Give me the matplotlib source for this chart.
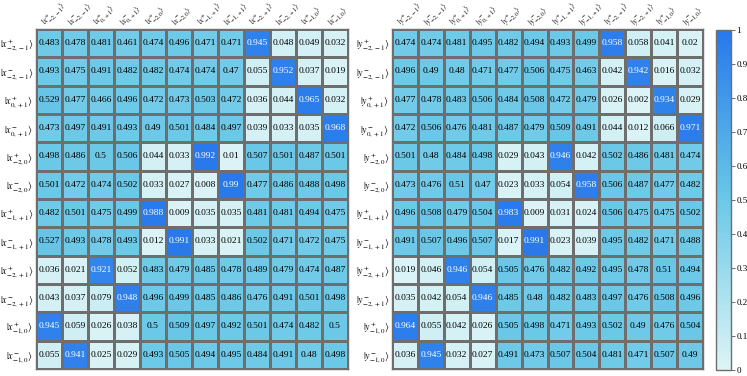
import matplotlib
matplotlib.use("Agg")
import matplotlib.pyplot as plt
import matplotlib.transforms as mtransforms
import numpy as np
from matplotlib.colors import LinearSegmentedColormap

plt.rcParams['font.family'] = ['Liberation Serif', 'DejaVu Serif']
plt.rcParams['mathtext.fontset'] = 'stix'

# index labels (row order == column order)
idx = ['-2,-1', '-2,-1', '0,+1', '0,+1', '-2,0', '-2,0',
       '-1,+1', '-1,+1', '-2,+1', '-2,+1', '-1,0', '-1,0']
signs = ['+', '-'] * 6

x_vals = [
    [0.483, 0.478, 0.481, 0.461, 0.474, 0.496, 0.471, 0.471, 0.945, 0.048, 0.049, 0.032],
    [0.493, 0.475, 0.491, 0.482, 0.482, 0.474, 0.474, 0.47, 0.055, 0.952, 0.037, 0.019],
    [0.529, 0.477, 0.466, 0.496, 0.472, 0.473, 0.503, 0.472, 0.036, 0.044, 0.965, 0.032],
    [0.473, 0.497, 0.491, 0.493, 0.49, 0.501, 0.484, 0.497, 0.039, 0.033, 0.035, 0.968],
    [0.498, 0.486, 0.5, 0.506, 0.044, 0.033, 0.992, 0.01, 0.507, 0.501, 0.487, 0.501],
    [0.501, 0.472, 0.474, 0.502, 0.033, 0.027, 0.008, 0.99, 0.477, 0.486, 0.488, 0.498],
    [0.482, 0.501, 0.475, 0.499, 0.988, 0.009, 0.035, 0.035, 0.481, 0.481, 0.494, 0.475],
    [0.527, 0.493, 0.478, 0.493, 0.012, 0.991, 0.033, 0.021, 0.502, 0.471, 0.472, 0.475],
    [0.036, 0.021, 0.921, 0.052, 0.483, 0.479, 0.485, 0.478, 0.489, 0.479, 0.474, 0.487],
    [0.043, 0.037, 0.079, 0.948, 0.496, 0.499, 0.485, 0.486, 0.476, 0.491, 0.501, 0.498],
    [0.945, 0.059, 0.026, 0.038, 0.5, 0.509, 0.497, 0.492, 0.501, 0.474, 0.482, 0.5],
    [0.055, 0.941, 0.025, 0.029, 0.493, 0.505, 0.494, 0.495, 0.484, 0.491, 0.48, 0.498],
]

y_vals = [
    [0.474, 0.474, 0.481, 0.495, 0.482, 0.494, 0.493, 0.499, 0.958, 0.058, 0.041, 0.02],
    [0.496, 0.49, 0.48, 0.471, 0.477, 0.506, 0.475, 0.463, 0.042, 0.942, 0.016, 0.032],
    [0.477, 0.478, 0.483, 0.506, 0.484, 0.508, 0.472, 0.479, 0.026, 0.002, 0.934, 0.029],
    [0.472, 0.506, 0.476, 0.481, 0.487, 0.479, 0.509, 0.491, 0.044, 0.012, 0.066, 0.971],
    [0.501, 0.48, 0.484, 0.498, 0.029, 0.043, 0.946, 0.042, 0.502, 0.486, 0.481, 0.474],
    [0.473, 0.476, 0.51, 0.47, 0.023, 0.033, 0.054, 0.958, 0.506, 0.487, 0.477, 0.482],
    [0.496, 0.508, 0.479, 0.504, 0.983, 0.009, 0.031, 0.024, 0.506, 0.475, 0.475, 0.502],
    [0.491, 0.507, 0.496, 0.507, 0.017, 0.991, 0.023, 0.039, 0.495, 0.482, 0.471, 0.488],
    [0.019, 0.046, 0.946, 0.054, 0.505, 0.476, 0.482, 0.492, 0.495, 0.478, 0.51, 0.494],
    [0.035, 0.042, 0.054, 0.946, 0.485, 0.48, 0.482, 0.483, 0.497, 0.476, 0.508, 0.496],
    [0.964, 0.055, 0.042, 0.026, 0.505, 0.498, 0.471, 0.493, 0.502, 0.49, 0.476, 0.504],
    [0.036, 0.945, 0.032, 0.027, 0.491, 0.473, 0.507, 0.504, 0.481, 0.471, 0.507, 0.49],
]

cbar_ticks = [0, 0.1, 0.2, 0.3, 0.4, 0.5, 0.6, 0.7, 0.8, 0.9, 1]

cmap = LinearSegmentedColormap.from_list(
    'cyanblue', [(0.0, '#ddf4f6'), (0.5, '#6bc8e7'), (1.0, '#2878ec')])

fig = plt.figure(figsize=(7.47, 3.76), dpi=100)
ax1 = fig.add_axes([0.0482, 0.019, 0.4177, 0.904])
ax2 = fig.add_axes([0.5248, 0.019, 0.4163, 0.904])
cax = fig.add_axes([0.9585, 0.016, 0.020, 0.905])


def ket(var, s, i):
    return r'$|%s^{%s}_{%s}\rangle$' % (var, s, i)


def draw(ax, data, var):
    data = np.array(data)
    n = data.shape[0]
    mesh = ax.pcolormesh(np.arange(n + 1), np.arange(n + 1), data, cmap=cmap,
                         vmin=0, vmax=1, edgecolors='#6e6e6e', linewidth=0.8)
    ax.set_xlim(0, n)
    ax.set_ylim(n, 0)
    for i in range(n):
        for j in range(n):
            v = data[i, j]
            ax.text(j + 0.5, i + 0.5, f'{v:g}', ha='center', va='center',
                    fontsize=6.8, color='white' if v > 0.9 else 'black')
    labels = [ket(var, s, i) for s, i in zip(signs, idx)]
    ax.set_yticks(np.arange(n) + 0.5)
    ax.set_yticklabels(labels, fontsize=7.2)
    ax.xaxis.tick_top()
    ax.set_xticks(np.arange(n) + 0.5)
    ax.set_xticklabels(labels, fontsize=6.0, rotation=45, ha='left',
                       va='bottom', rotation_mode='anchor')
    shift = mtransforms.ScaledTranslation(-9 / 100, -1 / 100, fig.dpi_scale_trans)
    for t in ax.get_xticklabels():
        t.set_transform(t.get_transform() + shift)
    ax.tick_params(axis='y', length=0, pad=2)
    ax.tick_params(axis='x', length=0, pad=0)
    for sp in ax.spines.values():
        sp.set_color('#6e6e6e')
        sp.set_linewidth(1.0)
    return mesh


m = draw(ax1, x_vals, 'x')
draw(ax2, y_vals, 'y')

cb = fig.colorbar(m, cax=cax, ticks=cbar_ticks)
cb.ax.set_yticklabels([f'{t:g}' for t in cbar_ticks], fontsize=6.5)
cb.ax.tick_params(length=3, width=0.6, color='#555555', pad=1)
cb.outline.set_edgecolor('#6e6e6e')
cb.outline.set_linewidth(1.0)

fig.savefig('out.png', dpi=100)
